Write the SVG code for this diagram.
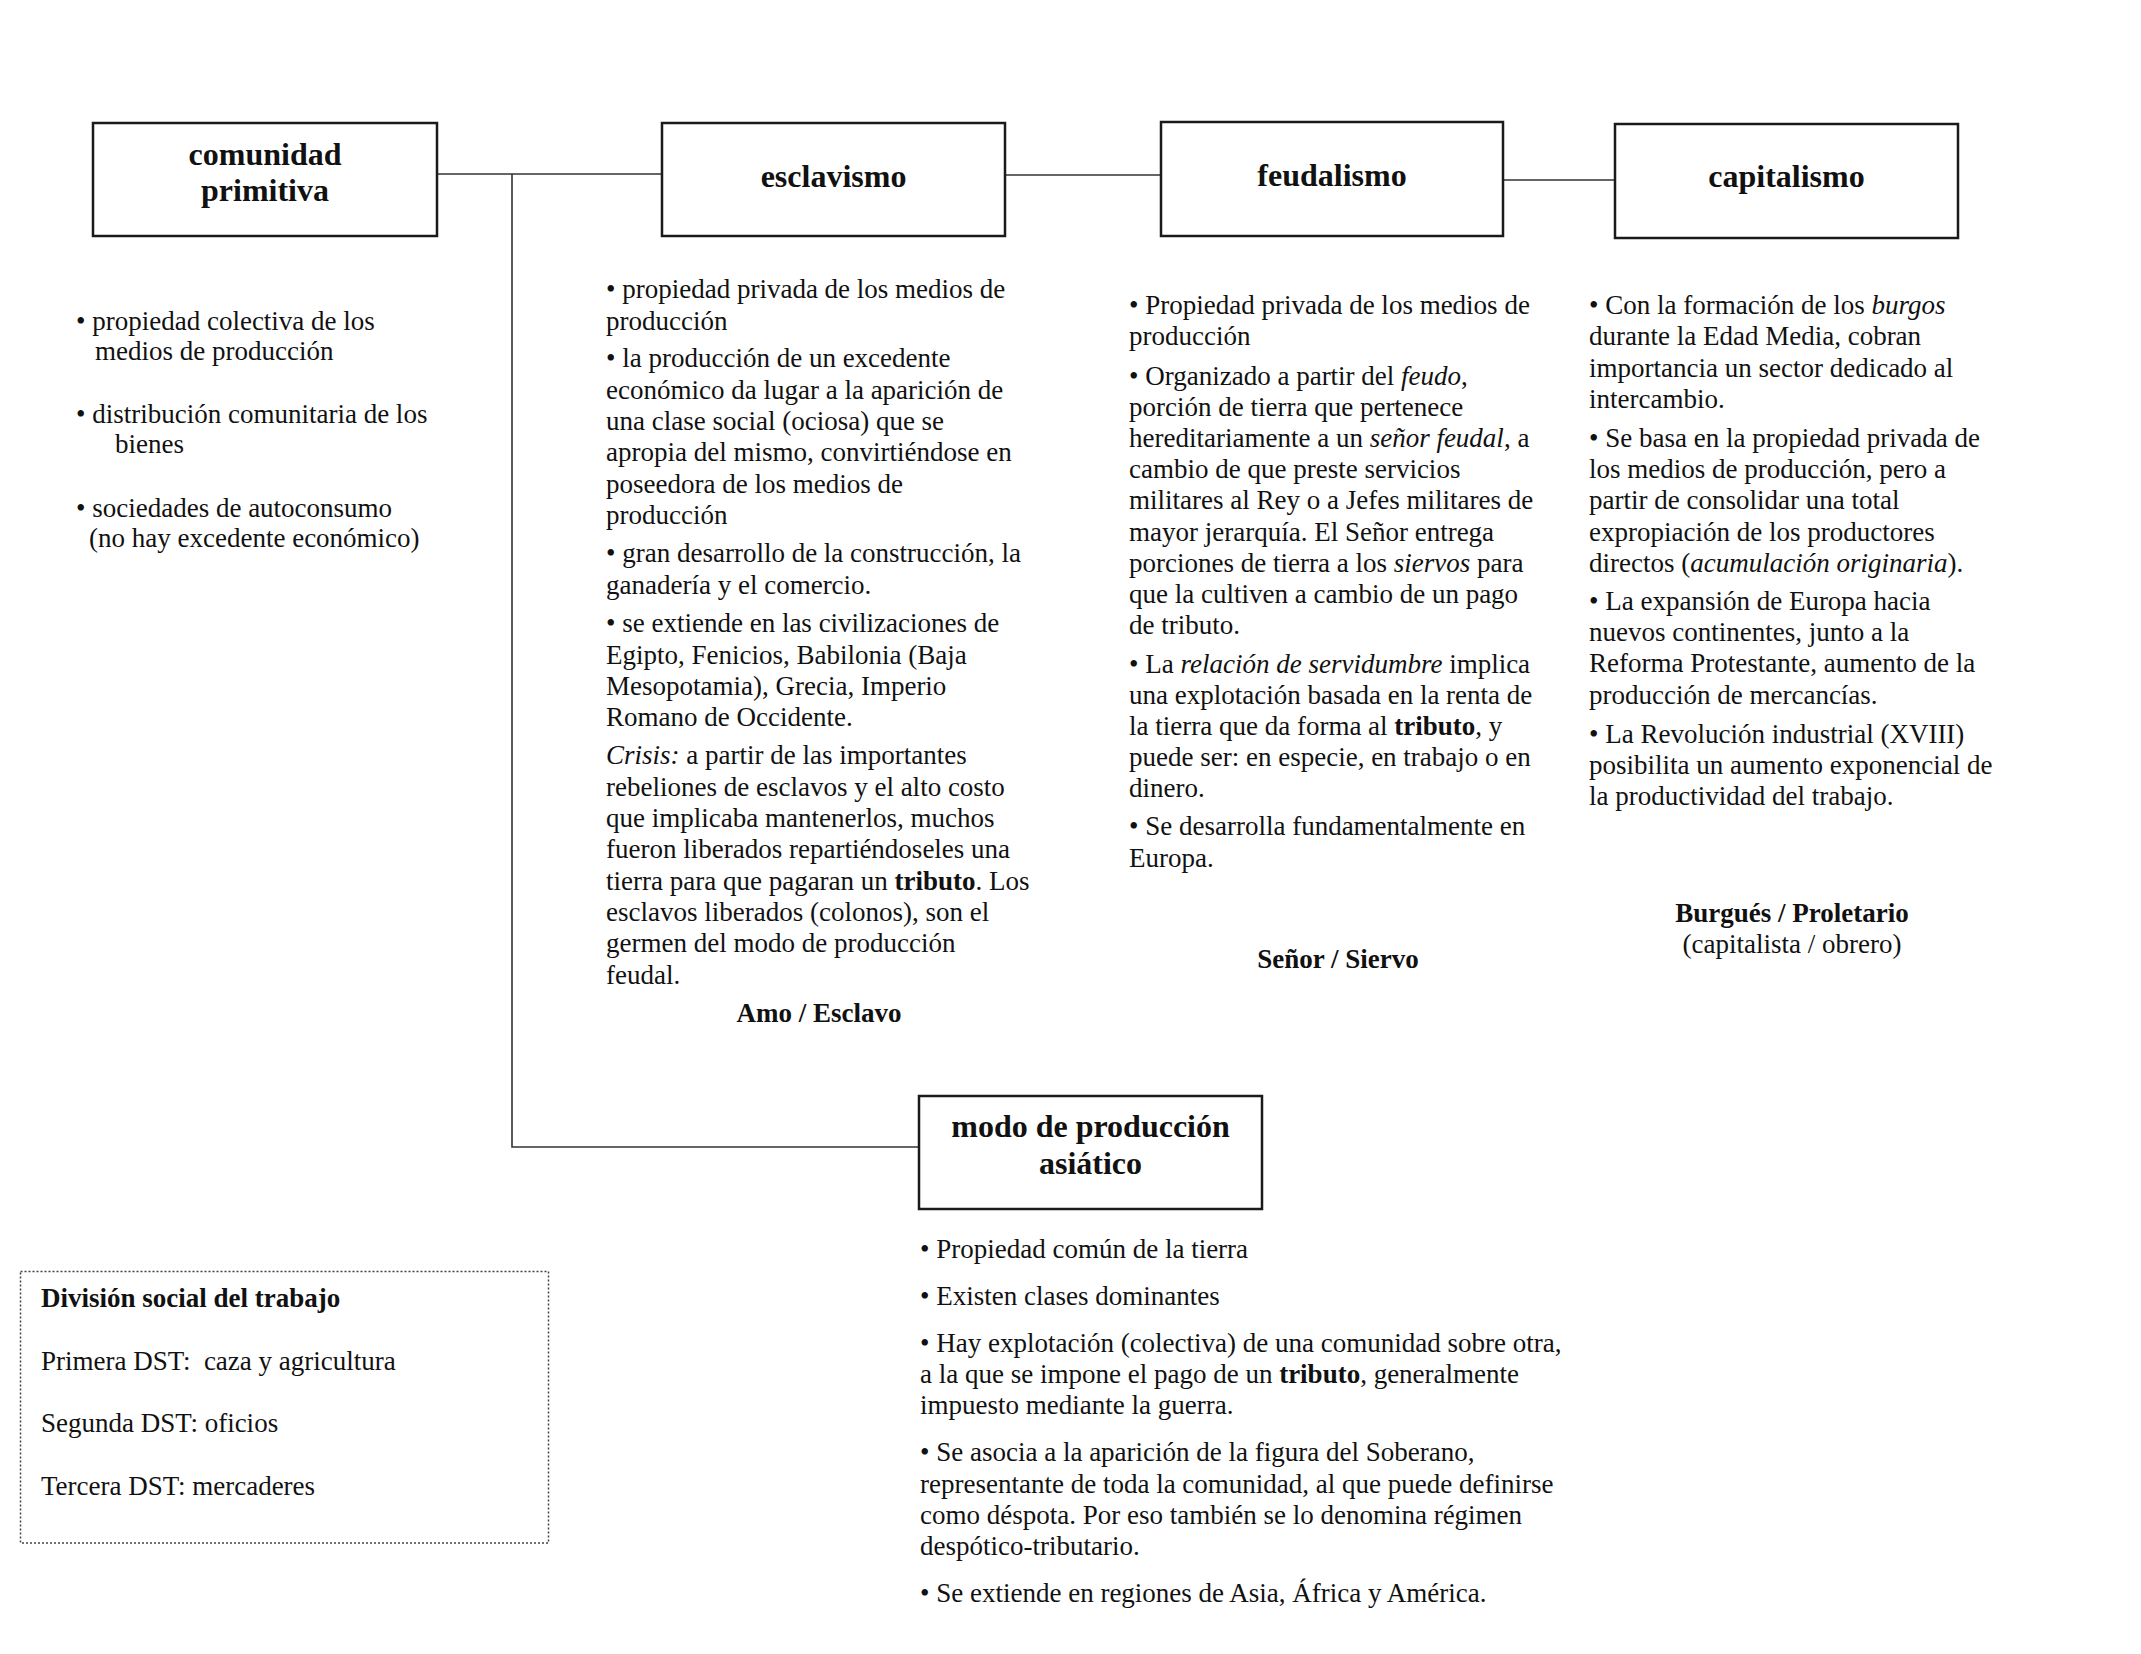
<svg xmlns="http://www.w3.org/2000/svg" width="2141" height="1654" viewBox="0 0 2141 1654">
<style>
.box{fill:#fff;stroke:#1a1a1a;stroke-width:2.5}
.dst{fill:#fff;stroke:#444;stroke-width:1.5;stroke-dasharray:2 2}
.conn{stroke:#333;stroke-width:1.6;fill:none}
text{font-family:"Liberation Serif","Times New Roman",serif;font-size:27px;fill:#111}
.h{font-weight:bold;font-size:32px;text-anchor:middle}
.c{text-anchor:middle}
.b{font-weight:bold}
.i{font-style:italic}
</style>
<rect width="2141" height="1654" fill="#fff"/>
<g id="connectors">
<path class="conn" d="M437,174 H662"/>
<path class="conn" d="M512,174 V1147 H919"/>
<path class="conn" d="M1005,175 H1161"/>
<path class="conn" d="M1503,180 H1615"/>
</g>
<g id="comunidad-primitiva">
<rect class="box" x="93" y="123" width="344" height="113"/>
<text class="h" x="265" y="165">comunidad</text>
<text class="h" x="265" y="201">primitiva</text>
<text x="76" y="330">• propiedad colectiva de los</text>
<text x="95" y="360">medios de producción</text>
<text x="76" y="423">• distribución comunitaria de los</text>
<text x="115" y="453">bienes</text>
<text x="76" y="517">• sociedades de autoconsumo</text>
<text x="89" y="547">(no hay excedente económico)</text>
</g>
<g id="esclavismo">
<rect class="box" x="662" y="123" width="343" height="113"/>
<text class="h" x="833.5" y="186.5">esclavismo</text>
<text x="606" y="298">• propiedad privada de los medios de</text>
<text x="606" y="329.5">producción</text>
<text x="606" y="367">• la producción de un excedente</text>
<text x="606" y="398.5">económico da lugar a la aparición de</text>
<text x="606" y="430">una clase social (ociosa) que se</text>
<text x="606" y="461">apropia del mismo, convirtiéndose en</text>
<text x="606" y="492.5">poseedora de los medios de</text>
<text x="606" y="524">producción</text>
<text x="606" y="562">• gran desarrollo de la construcción, la</text>
<text x="606" y="593.5">ganadería y el comercio.</text>
<text x="606" y="632">• se extiende en las civilizaciones de</text>
<text x="606" y="663.5">Egipto, Fenicios, Babilonia (Baja</text>
<text x="606" y="695">Mesopotamia), Grecia, Imperio</text>
<text x="606" y="726">Romano de Occidente.</text>
<text x="606" y="764"><tspan class="i">Crisis:</tspan> a partir de las importantes</text>
<text x="606" y="795.5">rebeliones de esclavos y el alto costo</text>
<text x="606" y="827">que implicaba mantenerlos, muchos</text>
<text x="606" y="858">fueron liberados repartiéndoseles una</text>
<text x="606" y="889.5">tierra para que pagaran un <tspan class="b">tributo</tspan>. Los</text>
<text x="606" y="921">esclavos liberados (colonos), son el</text>
<text x="606" y="952">germen del modo de producción</text>
<text x="606" y="983.5">feudal.</text>
<text class="c b" x="819" y="1021.5">Amo / Esclavo</text>
</g>
<g id="feudalismo">
<rect class="box" x="1161" y="122" width="342" height="114"/>
<text class="h" x="1332" y="186">feudalismo</text>
<text x="1129" y="314">• Propiedad privada de los medios de</text>
<text x="1129" y="345">producción</text>
<text x="1129" y="385">• Organizado a partir del <tspan class="i">feudo</tspan>,</text>
<text x="1129" y="416">porción de tierra que pertenece</text>
<text x="1129" y="447">hereditariamente a un <tspan class="i">señor feudal</tspan>, a</text>
<text x="1129" y="478">cambio de que preste servicios</text>
<text x="1129" y="509">militares al Rey o a Jefes militares de</text>
<text x="1129" y="540.5">mayor jerarquía. El Señor entrega</text>
<text x="1129" y="572">porciones de tierra a los <tspan class="i">siervos</tspan> para</text>
<text x="1129" y="603">que la cultiven a cambio de un pago</text>
<text x="1129" y="634">de tributo.</text>
<text x="1129" y="673">• La <tspan class="i">relación de servidumbre</tspan> implica</text>
<text x="1129" y="704">una explotación basada en la renta de</text>
<text x="1129" y="735">la tierra que da forma al <tspan class="b">tributo</tspan>, y</text>
<text x="1129" y="766">puede ser: en especie, en trabajo o en</text>
<text x="1129" y="797">dinero.</text>
<text x="1129" y="835">• Se desarrolla fundamentalmente en</text>
<text x="1129" y="866.5">Europa.</text>
<text class="c b" x="1338" y="968">Señor / Siervo</text>
</g>
<g id="capitalismo">
<rect class="box" x="1615" y="124" width="343" height="114"/>
<text class="h" x="1786.5" y="187">capitalismo</text>
<text x="1589" y="314">• Con la formación de los <tspan class="i">burgos</tspan></text>
<text x="1589" y="345">durante la Edad Media, cobran</text>
<text x="1589" y="377">importancia un sector dedicado al</text>
<text x="1589" y="408">intercambio.</text>
<text x="1589" y="447">• Se basa en la propiedad privada de</text>
<text x="1589" y="478">los medios de producción, pero a</text>
<text x="1589" y="509">partir de consolidar una total</text>
<text x="1589" y="540.5">expropiación de los productores</text>
<text x="1589" y="572">directos (<tspan class="i">acumulación originaria</tspan>).</text>
<text x="1589" y="610">• La expansión de Europa hacia</text>
<text x="1589" y="641">nuevos continentes, junto a la</text>
<text x="1589" y="672">Reforma Protestante, aumento de la</text>
<text x="1589" y="703.5">producción de mercancías.</text>
<text x="1589" y="742.5">• La Revolución industrial (XVIII)</text>
<text x="1589" y="774">posibilita un aumento exponencial de</text>
<text x="1589" y="805">la productividad del trabajo.</text>
<text class="c b" x="1792" y="922">Burgués / Proletario</text>
<text class="c" x="1792" y="953">(capitalista / obrero)</text>
</g>
<g id="modo-asiatico">
<rect class="box" x="919" y="1096" width="343" height="113"/>
<text class="h" x="1090.5" y="1137">modo de producción</text>
<text class="h" x="1090.5" y="1174">asiático</text>
<text x="920" y="1258">• Propiedad común de la tierra</text>
<text x="920" y="1304.5">• Existen clases dominantes</text>
<text x="920" y="1351.5">• Hay explotación (colectiva) de una comunidad sobre otra,</text>
<text x="920" y="1383">a la que se impone el pago de un <tspan class="b">tributo</tspan>, generalmente</text>
<text x="920" y="1414">impuesto mediante la guerra.</text>
<text x="920" y="1461">• Se asocia a la aparición de la figura del Soberano,</text>
<text x="920" y="1492.5">representante de toda la comunidad, al que puede definirse</text>
<text x="920" y="1524">como déspota. Por eso también se lo denomina régimen</text>
<text x="920" y="1555">despótico-tributario.</text>
<text x="920" y="1602">• Se extiende en regiones de Asia, África y América.</text>
</g>
<g id="division-social">
<rect class="dst" x="20.5" y="1271.5" width="528" height="271.5"/>
<text class="b" x="41" y="1306.5">División social del trabajo</text>
<text x="41" y="1369.5" xml:space="preserve">Primera DST:  caza y agricultura</text>
<text x="41" y="1432">Segunda DST: oficios</text>
<text x="41" y="1495">Tercera DST: mercaderes</text>
</g>
</svg>
